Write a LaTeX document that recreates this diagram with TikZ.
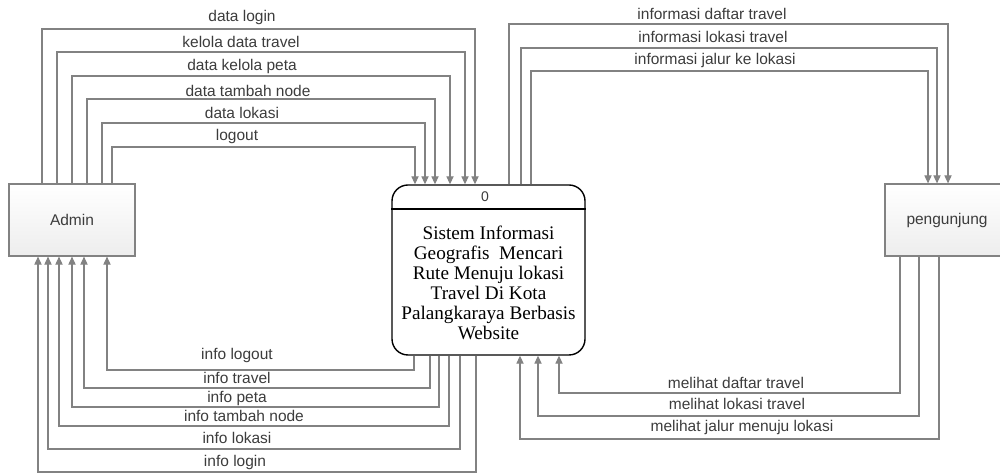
\documentclass[tikz,border=0pt]{standalone}
\usepackage{fontspec}
\setmainfont{Liberation Serif}
\setsansfont{Liberation Sans}
\usetikzlibrary{arrows.meta}

\definecolor{garis}{RGB}{130,130,130}
\definecolor{teks}{RGB}{60,60,60}

\tikzset{
  entitas/.style={draw=garis, line width=0.6pt, top color=white, bottom color=gray!14,
    minimum width=63pt, minimum height=36pt, font=\sffamily\fontsize{7.75}{9}\selectfont, text=teks},
  proses/.style={draw=black, line width=0.7pt, rounded corners=8pt, fill=white,
    minimum width=96.5pt, minimum height=85pt},
  alir/.style={draw=garis, line width=0.55pt, -{Triangle[length=4pt,width=3.6pt]}},
  ket/.style={font=\sffamily\fontsize{7.75}{9}\selectfont, text=teks, inner sep=0pt}
}

\begin{document}
\begin{tikzpicture}[x=0.5pt,y=-0.5pt]
\useasboundingbox (0,0) rectangle (1000,474);
\clip (0,0) rectangle (1000,474);

% entitas luar dan proses
\node[entitas] (admin) at (72,220) {Admin};
\node[entitas, minimum width=62pt] (pengunjung) at (947,220) {pengunjung};
\node[proses] (proses0) at (488.5,270) {};
\draw[black, line width=0.7pt] (proses0.west |- 0,209) -- (proses0.east |- 0,209);
\node[font=\sffamily\fontsize{7}{8}\selectfont, text=teks] (nomor) at (485,197) {0};
\node[align=center, font=\fontsize{9.6}{10}\selectfont] (judul) at (488.5,283)
  {Sistem Informasi\\Geografis\ \ Mencari\\Rute Menuju lokasi\\Travel Di Kota\\Palangkaraya Berbasis\\Website};

% admin -> sistem
\draw[alir] (admin.north -| 42,0) |- (242,29) -| (proses0.north -| 475,0);
\draw[alir] (admin.north -| 57,0) |- (242,52) -| (proses0.north -| 465,0);
\draw[alir] (admin.north -| 72,0) |- (242,76) -| (proses0.north -| 450,0);
\draw[alir] (admin.north -| 87,0) |- (242,99) -| (proses0.north -| 435,0);
\draw[alir] (admin.north -| 102,0) |- (242,123) -| (proses0.north -| 425,0);
\draw[alir] (admin.north -| 112,0) |- (242,147) -| (proses0.north -| 415,0);
\node[ket] (k1) at (242,18) {data login};
\node[ket] (k2) at (241,42) {kelola data travel};
\node[ket] (k3) at (242,67) {data kelola peta};
\node[ket] (k4) at (248,91) {data tambah node};
\node[ket] (k5) at (242,113) {data lokasi};
\node[ket] (k6) at (237,137) {logout};

% sistem -> admin
\draw[alir] (proses0.south -| 414,0) |- (237,370) -| (admin.south -| 107,0);
\draw[alir] (proses0.south -| 430,0) |- (237,388) -| (admin.south -| 84,0);
\draw[alir] (proses0.south -| 439,0) |- (237,407) -| (admin.south -| 72,0);
\draw[alir] (proses0.south -| 449,0) |- (237,426) -| (admin.south -| 59,0);
\draw[alir] (proses0.south -| 460,0) |- (237,449) -| (admin.south -| 48,0);
\draw[alir] (proses0.south -| 476,0) |- (237,472) -| (admin.south -| 38,0);
\node[ket] (k7) at (237,355) {info logout};
\node[ket] (k8) at (237,378) {info travel};
\node[ket] (k9) at (237,398) {info peta};
\node[ket] (k10) at (244,416) {info tambah node};
\node[ket] (k11) at (237,438) {info lokasi};
\node[ket] (k12) at (235,462) {info login};

% sistem -> pengunjung
\draw[alir] (proses0.north -| 509,0) |- (712,24) -| (pengunjung.north -| 948,0);
\draw[alir] (proses0.north -| 521,0) |- (712,48) -| (pengunjung.north -| 937,0);
\draw[alir] (proses0.north -| 531,0) |- (712,71) -| (pengunjung.north -| 928,0);
\node[ket] (k13) at (712,14) {informasi daftar travel};
\node[ket] (k14) at (713,37) {informasi lokasi travel};
\node[ket] (k15) at (715,61) {informasi jalur ke lokasi};

% pengunjung -> sistem
\draw[alir] (pengunjung.south -| 900,0) |- (737,393) -| (proses0.south -| 559,0);
\draw[alir] (pengunjung.south -| 919,0) |- (737,416) -| (proses0.south -| 538,0);
\draw[alir] (pengunjung.south -| 939,0) |- (737,439) -| (proses0.south -| 520,0);
\node[ket] (k16) at (736,383) {melihat daftar travel};
\node[ket] (k17) at (737,404) {melihat lokasi travel};
\node[ket] (k18) at (742,427) {melihat jalur menuju lokasi};

\end{tikzpicture}
\end{document}
